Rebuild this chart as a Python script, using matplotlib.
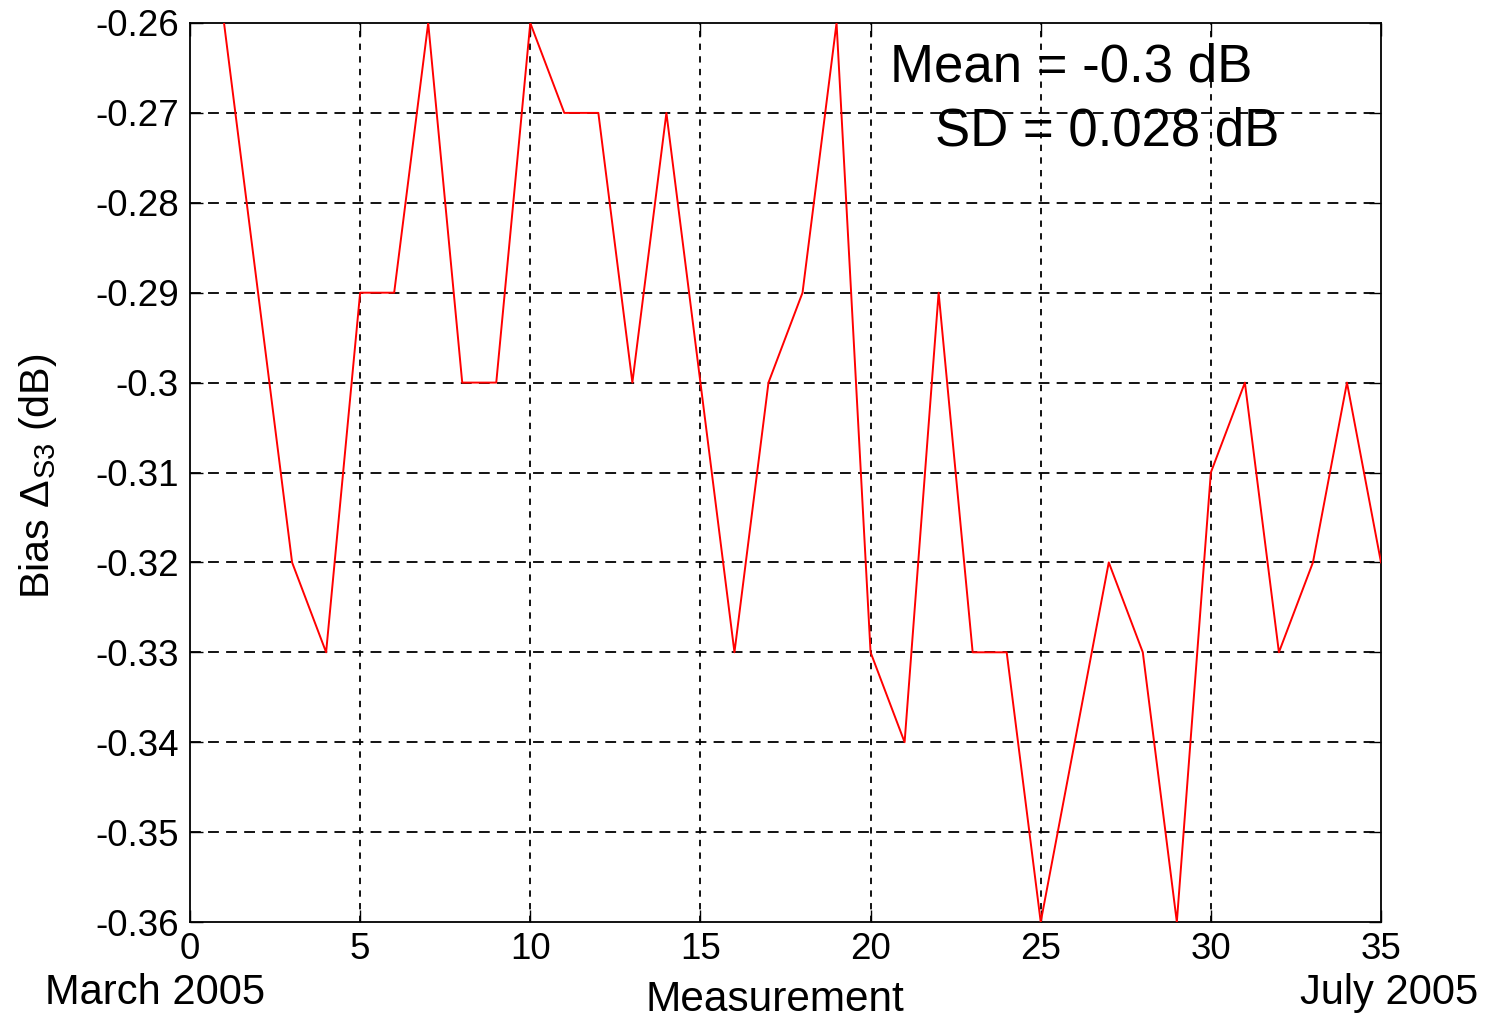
import matplotlib
matplotlib.use("Agg")
import matplotlib.pyplot as plt

plt.rcParams['font.family'] = ['Liberation Sans', 'DejaVu Sans']
plt.rcParams['mathtext.fontset'] = 'custom'
plt.rcParams['mathtext.rm'] = 'Liberation Sans'
plt.rcParams['mathtext.it'] = 'Liberation Sans'

# Bias measurements, one per session
measurement = list(range(1, 36))
bias_db = [-0.26, -0.29, -0.32, -0.33, -0.29, -0.29, -0.26, -0.30, -0.30, -0.26,
           -0.27, -0.27, -0.30, -0.27, -0.30, -0.33, -0.30, -0.29, -0.26, -0.33,
           -0.34, -0.29, -0.33, -0.33, -0.36, -0.34, -0.32, -0.33, -0.36, -0.31,
           -0.30, -0.33, -0.32, -0.30, -0.32]

x_ticks = [0, 5, 10, 15, 20, 25, 30, 35]
y_ticks = [-0.36, -0.35, -0.34, -0.33, -0.32, -0.31, -0.30, -0.29, -0.28, -0.27, -0.26]
y_tick_labels = ['-0.36', '-0.35', '-0.34', '-0.33', '-0.32', '-0.31', '-0.3',
                 '-0.29', '-0.28', '-0.27', '-0.26']
stats_lines = ['Mean = -0.3 dB', 'SD = 0.028 dB']

W, H = 1489, 1018
fig = plt.figure(figsize=(W / 100, H / 100), dpi=100)
ax = fig.add_axes([190 / W, 1 - 922 / H, (1381 - 190) / W, (922 - 23) / H])

ax.plot(measurement, bias_db, color='red', lw=1.4, zorder=3)

ax.set_xlim(0, 35)
ax.set_ylim(-0.36, -0.26)
ax.set_xticks(x_ticks)
ax.set_yticks(y_ticks)
ax.set_yticklabels(y_tick_labels)

# grid: dashed horizontals, dotted verticals
for yv in y_ticks[1:-1]:
    ax.axhline(yv, color='black', lw=1.3, dashes=(6, 4), zorder=1)
for xv in x_ticks[1:-1]:
    ax.axvline(xv, color='black', lw=1.3, dashes=(3.5, 3.5), zorder=1)

ax.tick_params(direction='in', length=9, width=1.0, top=True, right=True,
               labelsize=26.5, pad=8, colors='black')
ax.tick_params(axis='x', pad=7)
for s in ax.spines.values():
    s.set_linewidth(1.3)

ax.text(0.588, 0.95, stats_lines[0], transform=ax.transAxes, fontsize=38,
        ha='left', va='center')
ax.text(0.6255, 0.879, stats_lines[1], transform=ax.transAxes, fontsize=38,
        ha='left', va='center')

fig.text(38 / W, 1 - 476 / H, r'Bias $\Delta_{\mathrm{S3}}$ (dB)', rotation=90,
         fontsize=29.8, ha='center', va='center')
fig.text(775 / W, 1 - 1000 / H, 'Measurement', fontsize=30.5, ha='center', va='center')
fig.text(45 / W, 1 - 993 / H, 'March 2005', fontsize=30, ha='left', va='center')
fig.text(1478 / W, 1 - 993 / H, 'July 2005', fontsize=30, ha='right', va='center')

fig.savefig('out.png', dpi=100, facecolor='white')
